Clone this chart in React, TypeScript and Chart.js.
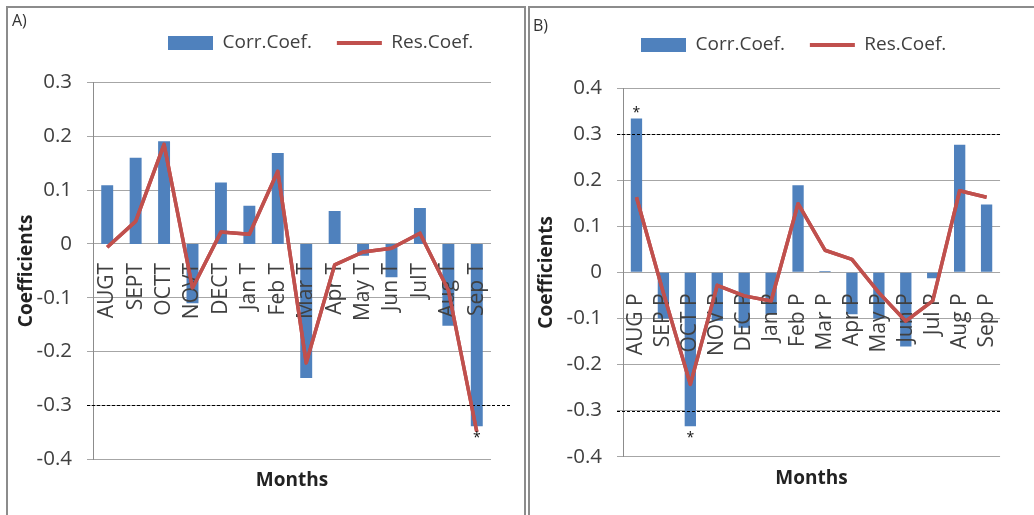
import React, { useEffect, useRef } from 'react';
import { Chart, registerables } from 'chart.js';

Chart.register(...registerables);

const FONT = '"Open Sans", sans-serif';
Chart.defaults.font.family = FONT;

const BLUE = '#4F81BD';
const RED = '#C0504D';
const TEXT = '#404040';

// ---------- Panel A data ----------
const monthsA = ['AUGT', 'SEPT', 'OCTT', 'NOVT', 'DECT', 'Jan T', 'Feb T', 'Mar T', 'Apr T', 'May T', 'Jun T', 'JulT', 'Aug T', 'Sep T'];
const corrA = [0.109, 0.160, 0.191, -0.110, 0.114, 0.071, 0.169, -0.249, 0.061, -0.022, -0.062, 0.067, -0.152, -0.339];
const resA = [-0.006, 0.042, 0.185, -0.082, 0.022, 0.018, 0.135, -0.221, -0.039, -0.015, -0.008, 0.020, -0.086, -0.349];
const marksA = ['', '', '', '', '', '', '', '', '', '', '', '', '', '*'];
const thresholdsA = [-0.3];
const yMinA = -0.4;
const yMaxA = 0.3;

// ---------- Panel B data ----------
const monthsB = ['AUG P', 'SEP P', 'OCT P', 'NOV P', 'DEC P', 'Jan P', 'Feb P', 'Mar P', 'Apr P', 'May P', 'Jun P', 'Jul P', 'Aug P', 'Sep P'];
const corrB = [0.334, -0.100, -0.334, -0.105, -0.120, -0.091, 0.189, 0.003, -0.091, -0.100, -0.161, -0.013, 0.277, 0.147];
const resB = [0.163, -0.045, -0.243, -0.028, -0.051, -0.062, 0.149, 0.048, 0.028, -0.044, -0.106, -0.062, 0.177, 0.163];
const marksB = ['*', '', '*', '', '', '', '', '', '', '', '', '', '', ''];
const thresholdsB = [0.3, -0.3];
const yMinB = -0.4;
const yMaxB = 0.4;

const seriesNames = ['Corr.Coef.', 'Res.Coef.'];
const yStep = 0.1;

const extrasPlugin = {
  id: 'extras',
  afterLayout(chart: any, _args: any, opts: any) {
    const lg = chart.legend;
    if (!lg) return;
    const p = lg.options.labels.padding;
    const fs = lg.options.labels.font.size;
    const w = lg.width;
    const h = lg.height;
    lg.left = opts.legendX - p;
    lg.right = lg.left + w;
    lg.top = opts.legendY - p - fs / 2;
    lg.bottom = lg.top + h;
  },
  afterDraw(chart: any, _args: any, opts: any) {
    const ctx = chart.ctx;
    const ys = chart.scales.y;
    const area = chart.chartArea;
    ctx.save();
    ctx.strokeStyle = '#000';
    ctx.lineWidth = 1;
    ctx.setLineDash([3, 2]);
    (opts.thresholds || []).forEach((t: number) => {
      const py = Math.round(ys.getPixelForValue(t)) + 0.5;
      ctx.beginPath();
      ctx.moveTo(area.left - 6, py);
      ctx.lineTo(area.right + (opts.dashExtend || 0), py);
      ctx.stroke();
    });
    ctx.restore();
    // line series above the axis labels
    chart.getDatasetMeta(1).controller.draw();
    // significance marks
    const meta0 = chart.getDatasetMeta(0);
    const vals = chart.data.datasets[0].data;
    ctx.save();
    ctx.fillStyle = '#111';
    ctx.font = '14px ' + FONT;
    ctx.textAlign = 'center';
    ctx.textBaseline = 'alphabetic';
    (opts.marks || []).forEach((m: string, i: number) => {
      if (!m) return;
      const el = meta0.data[i];
      const c = vals[i] >= 0 ? el.y - 10 : el.y + 7;
      ctx.fillText(m, el.x, c + 8.4);
    });
    ctx.restore();
  },
};

function fmt(v: any) {
  const n = Number(v);
  if (Math.abs(n) < 1e-9) return '0';
  return n.toFixed(1);
}

type PanelProps = {
  labels: string[];
  corr: number[];
  res: number[];
  marks: string[];
  thresholds: number[];
  yMin: number;
  yMax: number;
  style: any;
};

function Panel({ labels, corr, res, marks, thresholds, yMin, yMax, style }: PanelProps) {
  const ref = useRef<HTMLCanvasElement>(null);
  useEffect(() => {
    const chart = new Chart(ref.current as HTMLCanvasElement, {
      type: 'bar',
      data: {
        labels,
        datasets: [
          {
            type: 'bar',
            label: seriesNames[0],
            data: corr,
            backgroundColor: BLUE,
            borderWidth: 0,
            barPercentage: 0.42,
            categoryPercentage: 1,
            order: 2,
          },
          {
            type: 'line',
            label: seriesNames[1],
            data: res,
            borderColor: RED,
            backgroundColor: RED,
            borderWidth: 3.5,
            pointRadius: 0,
            pointHoverRadius: 0,
            tension: 0,
            borderJoinStyle: 'round',
            fill: false,
            order: 1,
          },
        ],
      },
      options: {
        responsive: false,
        devicePixelRatio: 1,
        animation: false,
        events: [],
        layout: { padding: { left: 0, right: style.padRight, top: style.padTop, bottom: 0 } },
        scales: {
          x: {
            type: 'category',
            position: { y: 0 } as any,
            offset: true,
            grid: { display: false, drawTicks: false },
            border: { display: false },
            ticks: {
              z: 1,
              autoSkip: false,
              minRotation: 90,
              maxRotation: 90,
              padding: style.tickPad,
              font: { size: 21 },
              color: TEXT,
            },
            afterFit: (s: any) => {
              s.height = 0;
            },
          } as any,
          y: {
            min: yMin,
            max: yMax,
            ticks: {
              stepSize: yStep,
              font: { size: 20.5 },
              color: TEXT,
              padding: 15,
              callback: (v: any) => fmt(v),
            },
            grid: { color: '#a6a6a6', lineWidth: 1, tickLength: 6, drawTicks: true },
            border: { display: true, color: '#8c8c8c', width: 1 },
            title: {
              display: true,
              text: 'Coefficients',
              font: { size: 19, weight: 'bold' },
              color: '#222',
              padding: { top: style.yTitlePad, bottom: 0 },
            },
            afterFit: (s: any) => {
              s.width = style.axisWidth;
            },
          } as any,
        },
        plugins: {
          tooltip: { enabled: false },
          legend: {
            display: true,
            position: 'top',
            align: 'start',
            labels: {
              usePointStyle: true,
              pointStyleWidth: 45,
              boxHeight: 14,
              padding: 25,
              font: { size: 19 },
              color: TEXT,
              generateLabels: (ch: any) =>
                ch.data.datasets.map((ds: any, i: number) => ({
                  text: ds.label,
                  fillStyle: i === 0 ? BLUE : 'rgba(0,0,0,0)',
                  strokeStyle: i === 0 ? BLUE : RED,
                  lineWidth: i === 0 ? 0 : 4,
                  pointStyle: i === 0 ? 'rect' : 'line',
                  hidden: false,
                  datasetIndex: i,
                  fontColor: TEXT,
                })),
            },
          } as any,
          title: {
            display: true,
            position: 'bottom',
            fullSize: false,
            text: 'Months',
            font: { size: 19, weight: 'bold' },
            color: '#222',
            padding: style.titlePad,
          } as any,
          extras: {
            legendX: style.legendX,
            legendY: style.legendY,
            thresholds,
            dashExtend: style.dashExtend,
            marks,
          },
        } as any,
      },
      plugins: [extrasPlugin as any],
    } as any);
    return () => chart.destroy();
  }, []);
  return (
    <canvas
      ref={ref}
      width={style.width}
      height={style.height}
      style={{ position: 'absolute', left: style.left, top: style.top, width: style.width, height: style.height }}
    />
  );
}

const styleA = {
  left: 8, top: 8, width: 516, height: 507,
  axisWidth: 85, yTitlePad: 7.6, padRight: 33, padTop: 20.5,
  legendX: 160, legendY: 35,
  titlePad: { top: 10, bottom: 23 }, dashExtend: 19, tickPad: 19,
};
const styleB = {
  left: 531, top: 8, width: 503, height: 507,
  axisWidth: 92, yTitlePad: 4.3, padRight: 22, padTop: 26,
  legendX: 110, legendY: 37,
  titlePad: { top: 10, bottom: 25.5 }, dashExtend: 0, tickPad: 21,
};

export default function App() {
  const border = '2px solid #8c8c8c';
  return (
    <div style={{ position: 'absolute', left: 0, top: 0, width: 1034, height: 515, overflow: 'hidden', background: '#fff', fontFamily: FONT }}>
      <div style={{ position: 'absolute', left: 6, top: 6, width: 516, height: 520, borderLeft: border, borderTop: border, borderRight: border }} />
      <div style={{ position: 'absolute', left: 528, top: 6, width: 520, height: 520, borderLeft: border, borderTop: border }} />
      <Panel labels={monthsA} corr={corrA} res={resA} marks={marksA} thresholds={thresholdsA} yMin={yMinA} yMax={yMaxA} style={styleA} />
      <Panel labels={monthsB} corr={corrB} res={resB} marks={marksB} thresholds={thresholdsB} yMin={yMinB} yMax={yMaxB} style={styleB} />
      <div style={{ position: 'absolute', left: 12, top: 10, fontSize: 16, lineHeight: '20px', color: '#333' }}>A)</div>
      <div style={{ position: 'absolute', left: 533, top: 15, fontSize: 16, lineHeight: '20px', color: '#333' }}>B)</div>
    </div>
  );
}
